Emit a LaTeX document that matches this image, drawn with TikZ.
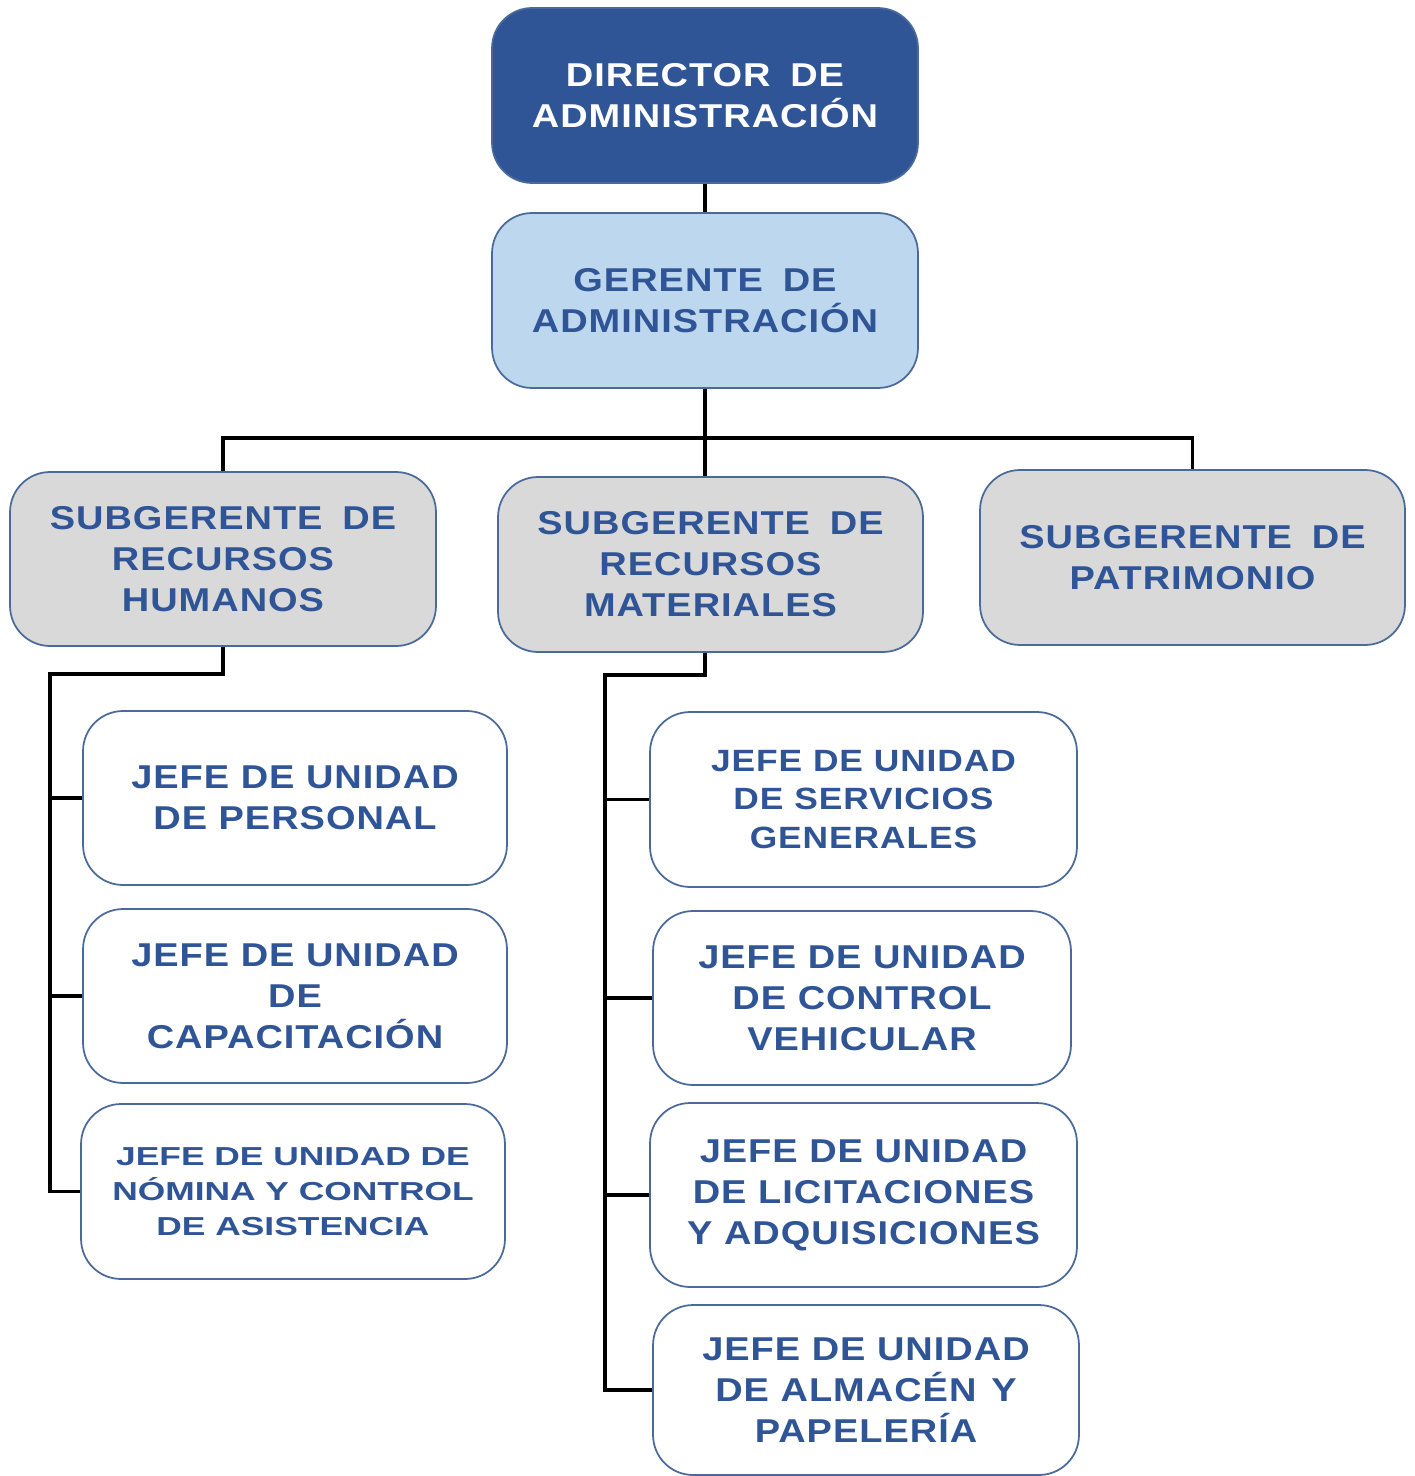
\documentclass[tikz,border=0pt]{standalone}
\usepackage{fontspec}
\newfontfamily\orgfont{Liberation Sans}[FakeStretch=1.15,LetterSpace=3]
\newfontfamily\orgfontwide{Liberation Sans}[FakeStretch=1.36,LetterSpace=0]
\definecolor{dirblue}{HTML}{2F5597}
\definecolor{gerblue}{HTML}{BDD7EE}
\definecolor{subgray}{HTML}{D9D9D9}
\definecolor{boxline}{HTML}{4A6A9A}
\definecolor{textblue}{HTML}{2F5597}
\tikzset{
  box/.style={draw=boxline, line width=1pt, rounded corners=0.8cm, align=center,
    inner sep=0pt, text=textblue,
    font=\orgfont\bfseries\fontsize{18.8}{23.3}\selectfont},
  dirbox/.style={box, fill=dirblue, text=white},
  gerbox/.style={box, fill=gerblue},
  subbox/.style={box, fill=subgray},
  jefebox/.style={box, fill=white},
  size/.style 2 args={minimum width=#1, minimum height=#2},
  link/.style={draw=black, line width=1.9pt},
}
\begin{document}
\begin{tikzpicture}[x=0.02cm, y=-0.02cm]
\useasboundingbox (0,0) rectangle (1415,1476);

% top of the hierarchy
\node[dirbox, size={8.52cm}{3.5cm}] (dir) at (705,95.5) {DIRECTOR\hspace{.6em}DE\\ADMINISTRACIÓN};
\node[gerbox, size={8.52cm}{3.5cm}] (ger) at (705,300.5) {GERENTE\hspace{.6em}DE\\ADMINISTRACIÓN};

% subgerencias
\node[subbox, size={8.52cm}{3.48cm}] (rh) at (223,559) {SUBGERENTE\hspace{.6em}DE\\RECURSOS\\HUMANOS};
\node[subbox, size={8.5cm}{3.5cm}] (rm) at (710.5,564.5) {SUBGERENTE\hspace{.6em}DE\\RECURSOS\\MATERIALES};
\node[subbox, size={8.5cm}{3.5cm}] (pat) at (1192.5,557.5) {SUBGERENTE\hspace{.6em}DE\\PATRIMONIO};

% jefaturas de recursos humanos
\node[jefebox, size={8.48cm}{3.48cm}] (per) at (295,798) {JEFE DE UNIDAD\\DE PERSONAL};
\node[jefebox, size={8.48cm}{3.48cm}] (cap) at (295,996) {JEFE DE UNIDAD\\DE\\CAPACITACIÓN};
\node[jefebox, size={8.48cm}{3.5cm},
  font=\orgfontwide\bfseries\fontsize{14.8}{19.9}\selectfont] (nom) at (293,1191.5)
  {JEFE DE UNIDAD DE\\NÓMINA Y CONTROL\\DE ASISTENCIA};

% jefaturas de recursos materiales
\node[jefebox, size={8.54cm}{3.5cm}, font=\orgfont\bfseries\fontsize{17.5}{21.7}\selectfont] (sg) at (863.5,799.5) {JEFE DE UNIDAD\\DE SERVICIOS\\GENERALES};
\node[jefebox, size={8.36cm}{3.48cm}] (cv) at (862,998) {JEFE DE UNIDAD\\DE CONTROL\\VEHICULAR};
\node[jefebox, size={8.54cm}{3.68cm}] (lic) at (863.5,1195) {JEFE DE UNIDAD\\DE LICITACIONES\\Y ADQUISICIONES};
\node[jefebox, size={8.52cm}{3.4cm}] (alm) at (866,1390) {JEFE DE UNIDAD\\DE ALMACÉN\hspace{.45em}Y\\PAPELERÍA};

% connectors
\coordinate (bus) at (703,438);
\coordinate (rhturn) at (50,674);
\coordinate (rmturn) at (605,675);

\draw[link] (dir) -- (ger);
\draw[link] (ger.south) -- (ger.south |- rm.north);
\draw[link] (rh.north) -- (rh.north |- bus) -- (pat.north |- bus) -- (pat.north);

\draw[link] (rh.south) |- (rhturn) -- (rhturn |- nom.west) -- (nom.west);
\draw[link] (rhturn |- per.west) -- (per.west);
\draw[link] (rhturn |- cap.west) -- (cap.west);

\draw[link] (ger.south |- rm.south) |- (rmturn) -- (rmturn |- alm.west) -- (alm.west);
\draw[link] (rmturn |- sg.west) -- (sg.west);
\draw[link] (rmturn |- cv.west) -- (cv.west);
\draw[link] (rmturn |- lic.west) -- (lic.west);
\end{tikzpicture}
\end{document}
